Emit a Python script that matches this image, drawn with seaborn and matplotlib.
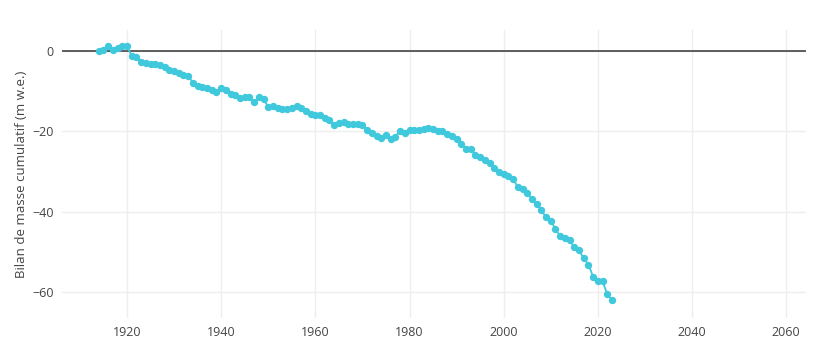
import matplotlib
matplotlib.use("Agg")
import matplotlib.pyplot as plt
import seaborn as sns
import pandas as pd

# cumulative mass balance
years = list(range(1914, 2024))
cumulative = [
    -0.1, 0.2, 1.1, 0.2, 0.7, 1.2, 1.1, -1.2, -1.6, -2.7,
    -2.9, -3.3, -3.3, -3.6, -4.1, -4.7, -5.1, -5.5, -6.0, -6.2,
    -7.9, -8.7, -8.9, -9.3, -9.8, -10.2, -9.3, -9.6, -10.6, -11.0,
    -11.6, -11.5, -11.4, -12.8, -11.4, -12.0, -13.9, -13.7, -14.3, -14.4,
    -14.5, -14.1, -13.8, -14.1, -14.9, -15.7, -15.9, -16.0, -16.6, -17.2,
    -18.5, -17.8, -17.6, -18.1, -18.2, -18.1, -18.5, -19.6, -20.3, -21.1,
    -21.6, -21.0, -21.8, -21.3, -19.9, -20.5, -19.7, -19.7, -19.7, -19.5,
    -19.1, -19.3, -19.9, -20.0, -20.6, -21.2, -21.8, -23.1, -24.3, -24.5,
    -25.8, -26.3, -27.0, -27.8, -29.1, -30.2, -30.7, -31.1, -31.9, -33.8,
    -34.4, -35.3, -36.9, -38.1, -39.6, -41.4, -42.3, -44.2, -46.1, -46.6,
    -47.1, -48.8, -49.6, -51.6, -53.1, -56.2, -57.2, -57.3, -60.5, -62.0,
]
x_ticks = [1920, 1940, 1960, 1980, 2000, 2020, 2040, 2060]
y_ticks = [0, -20, -40, -60]

df = pd.DataFrame({"Year": years, "Bilan": cumulative})

sns.set_theme(style="white")
plt.rcParams["font.family"] = ["Open Sans", "DejaVu Sans"]

fig = plt.figure(figsize=(8.3, 3.56), dpi=100)
ax = fig.add_axes([62 / 830, 38 / 356, 744 / 830, 288 / 356])

ax.grid(True, color="#eeeeee", linewidth=1)
ax.axhline(0, color="#444444", linewidth=1.2, zorder=2)

sns.lineplot(data=df, x="Year", y="Bilan", ax=ax, color="#40c8dc",
             marker="o", markersize=5.3, markeredgewidth=0, linewidth=1.3, zorder=3)

ax.set_xlim(1906.2, 2064.2)
ax.set_ylim(-66.4, 5.2)
ax.set_xticks(x_ticks)
ax.set_yticks(y_ticks)
ax.set_yticklabels(["0", "\u221220", "\u221240", "\u221260"])
ax.tick_params(axis="both", colors="#444444", labelsize=9, length=0, pad=6)
ax.set_xlabel("")
ax.set_ylabel("Bilan de masse cumulatif (m w.e.)", color="#444444", fontsize=9.5, labelpad=3)
for s in ax.spines.values():
    s.set_visible(False)

fig.savefig("out.png", dpi=100, facecolor="white")
